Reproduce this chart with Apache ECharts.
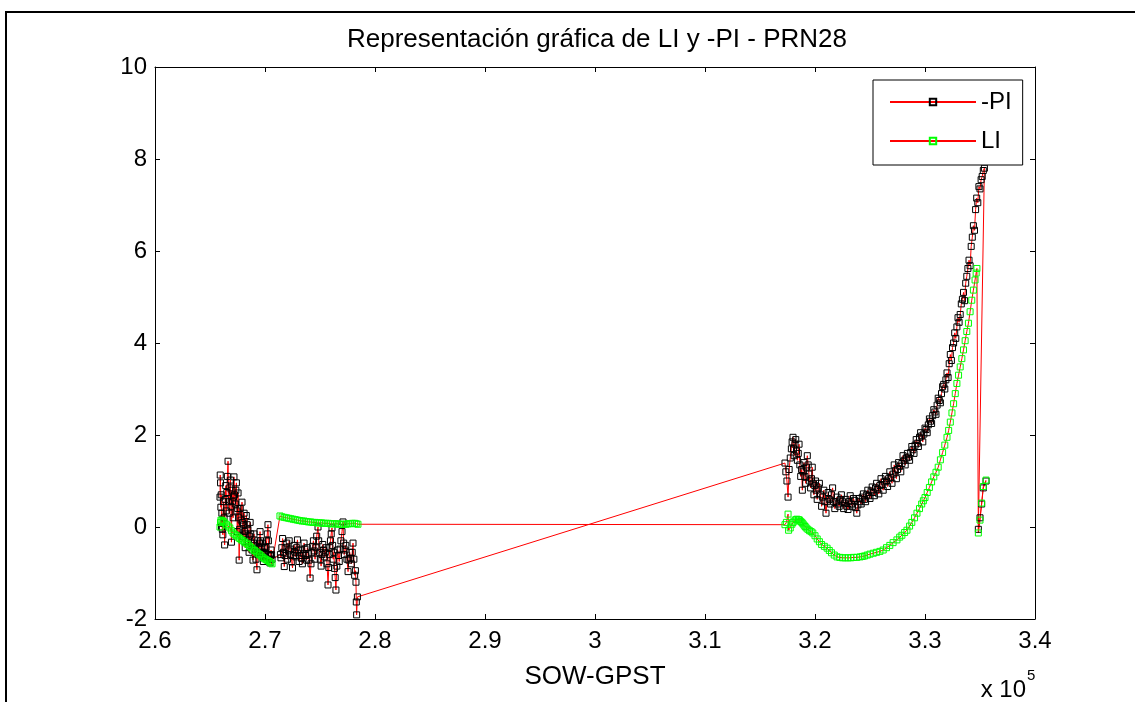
<!DOCTYPE html>
<html>
<head>
<meta charset="utf-8">
<script src="https://cdn.jsdelivr.net/npm/echarts@6/dist/echarts.min.js"></script>
<style>
html,body{margin:0;padding:0;background:#fff;}
#chart{width:1135px;height:702px;}
</style>
</head>
<body>
<div id="chart"></div>
<script>
// ---- DATA (x in seconds of week, y in metres) ----
var titleText = 'Representación gráfica de LI y -PI - PRN28';
var xAxisName = 'SOW-GPST';
var seriesNames = ['-PI', 'LI'];
var yTicks = [-2, 0, 2, 4, 6, 8, 10];
var xTicks = [260000, 270000, 280000, 290000, 300000, 310000, 320000, 330000, 340000];

// -PI : first pass
var piX1 = [265910,265930,265960,265990,266020,266050,266080,266120,266170,266220,266280,266330,266380,266430,266480,266530,266580,266640,266700,266750,
 266800,266850,266900,266950,267000,267050,267100,267140,267180,267230,267300,267350,267400,267440,267480,267520,267550,267600,267650,267700,
 267750,267830,267910,267960,268000,268050,268100,268150,268200,268250,268300,268380,268450,268500,268550,268600,268650,268700,268750,268830,
 268910,268950,269000,269050,269100,269180,269270,269310,269350,269400,269450,269500,269550,269600,269650,269700,269750,269800,269850,269900,
 269950,270000,270050,270100,270150,270210,270270,270310,270350,270400,270450,270500,270550,270600,270640];
var piY1 = [0.65,1.13,0.96,0.43,0.70,0.00,0.30,-0.05,-0.17,0.55,0.20,-0.39,0.60,0.90,0.35,0.75,1.10,1.43,0.55,0.30,
 0.85,1.02,0.45,-0.33,0.80,0.55,0.20,0.65,1.09,0.70,0.50,0.80,0.96,0.35,-0.10,0.40,0.74,0.20,-0.72,-0.05,
 0.40,0.15,0.54,0.10,-0.20,0.05,0.30,-0.10,-0.45,-0.15,0.25,0.05,-0.05,-0.30,-0.55,-0.20,0.10,-0.15,-0.35,-0.50,
 -0.72,-0.40,-0.15,-0.35,-0.50,-0.70,-0.93,-0.55,-0.30,-0.45,-0.60,-0.35,-0.10,-0.30,-0.55,-0.45,-0.35,-0.55,-0.75,-0.60,
 -0.45,-0.55,-0.65,-0.45,-0.30,-0.15,0.05,-0.30,-0.60,-0.70,-0.78,-0.62,-0.50,-0.60,-0.70];
// -PI : second pass
var piX2 = [271400,271450,271530,271600,271680,271750,271830,271900,271980,272050,272130,272200,272280,272350,272430,272500,272580,272650,272730,272800,
 272880,272950,273030,273100,273180,273250,273330,273400,273480,273550,273630,273700,273780,273850,273930,274000,274100,274180,274250,274330,
 274400,274480,274550,274630,274700,274820,274880,274950,275030,275100,275180,275250,275330,275400,275480,275550,275640,275730,275800,275850,
 275900,275950,276020,276090,276150,276200,276260,276320,276380,276450,276530,276600,276680,276750,276830,276900,277000,277090,277150,277200,
 277280,277350,277450,277550,277620,277700,277780,277850,277930,278000,278080,278150,278220,278270,278300,278330,278400];
var piY2 = [-0.60,-0.67,-0.45,-0.25,-0.55,-0.86,-0.62,-0.45,-0.35,-0.70,-0.52,-0.30,-0.48,-0.60,-0.75,-0.89,-0.62,-0.40,-0.55,-0.65,
 -0.45,-0.28,-0.50,-0.75,-0.62,-0.50,-0.68,-0.80,-0.58,-0.35,-0.48,-0.62,-0.72,-0.45,-0.58,-0.72,-1.11,-0.80,-0.55,-0.42,
 -0.30,-0.52,-0.70,-0.45,-0.20,0.00,-0.30,-0.55,-0.70,-0.85,-0.60,-0.38,-0.50,-0.65,-0.55,-0.45,-0.80,-1.26,-0.88,-0.60,
 -0.45,-0.30,-0.15,-0.02,-0.40,-0.70,-0.55,-0.90,-1.10,-1.37,-0.85,-0.50,-0.62,-0.75,-0.48,-0.30,-0.10,0.11,-0.35,-0.60,
 -0.50,-0.40,-0.70,-0.97,-0.72,-0.55,-0.68,-0.80,-0.55,-0.35,-0.70,-1.05,-0.95,-1.20,-1.63,-1.91,-1.52];
// -PI : third pass
var piX3 = [317270,317350,317450,317550,317650,317750,317850,317920,318000,318050,318100,318180,318250,318320,318400,318480,318550,318620,318700,318780,
 318850,318920,319000,319080,319150,319220,319300,319380,319450,319520,319600,319680,319750,319820,319900,319980,320050,320120,320200,320300,
 320400,320500,320600,320700,320800,320900,321000,321100,321200,321300,321400,321500,321600,321700,321800,321900,322000,322100,322200,322300,
 322400,322500,322600,322700,322800,322900,323000,323100,323200,323300,323400,323500,323600,323700,323800,323900,324000,324100,324200,324300,
 324400,324500,324600,324700,324800,324900,325000,325100,325200,325300,325400,325500,325600,325700,325800,325900,326000,326100,326200,326300,
 326400,326500,326600,326700,326800,326900,327000,327100,327200,327300,327400,327500,327600,327700,327800,327900,328000,328100,328200,328300,
 328400,328500,328600,328700,328800,328900,329000,329100,329200,329300,329400,329500,329600,329700,329800,329900,330000,330100,330200,330300,
 330400,330500,330600,330700,330800,330900,331000,331100,331200,331300,331400,331500,331600,331700,331800,331900,
 332000,332100,332200,332300,332400,332500,332600,332700,332800,332900,333000,333100,333200,333300,333400,333500,333600,333700,333800,333900,
 334000,334100,334200,334300,334400,334500,334600,334700,334800,334900,335000,335100,335200,335300,335400];
var piY3 = [1.39,1.20,1.00,0.65,1.25,1.50,1.70,1.85,1.95,1.70,1.55,1.80,1.90,1.65,1.45,1.60,1.80,1.35,1.10,1.25,
 0.80,1.20,1.40,1.10,0.95,1.30,1.55,1.35,1.15,1.00,0.85,1.05,1.30,0.95,0.70,0.90,1.00,0.80,0.60,0.85,
 0.95,0.70,0.45,0.65,0.80,0.55,0.30,0.55,0.75,0.60,0.50,0.70,0.85,0.55,0.40,0.55,0.65,0.50,0.45,0.60,
 0.70,0.55,0.40,0.52,0.60,0.45,0.38,0.55,0.68,0.50,0.45,0.62,0.58,0.42,0.30,0.48,0.62,0.55,0.50,0.65,
 0.72,0.60,0.55,0.70,0.80,0.68,0.62,0.78,0.87,0.75,0.68,0.85,0.95,0.82,0.72,0.90,1.05,0.92,0.80,0.98,
 1.10,1.00,0.88,1.05,1.20,1.08,0.95,1.15,1.35,1.22,1.05,1.25,1.40,1.32,1.20,1.38,1.55,1.45,1.35,1.50,
 1.60,1.52,1.45,1.62,1.75,1.68,1.60,1.78,1.90,1.82,1.75,1.95,2.05,1.98,1.85,2.02,2.15,2.12,2.05,2.22,
 2.35,2.30,2.25,2.42,2.55,2.50,2.45,2.65,2.80,2.75,2.70,2.90,3.05,3.10,3.00,3.20,
 3.35,3.25,3.55,3.75,3.62,3.90,4.00,4.22,4.10,4.35,4.55,4.45,4.62,4.85,4.95,5.10,4.92,5.30,5.45,5.62,
 5.80,5.68,6.10,6.30,6.55,6.45,6.90,7.15,7.05,7.40,7.35,7.55,7.62,7.75,7.80];
// -PI : last short pass
var piX4 = [334850,335000,335150,335300,335550];
var piY4 = [-0.05,0.20,0.50,0.85,1.00];

// LI passes
var liX1 = [265910,265960,266000,266100,266200,266350,266500,266650,266800,266950,267100,267250,267400,267550,267700,267850,268000,268150,268300,268450,
 268600,268750,268900,269050,269200,269350,269500,269650,269800,269950,270100,270250,270400,270520,270640];
var liY1 = [0.00,0.10,0.15,0.14,0.12,0.09,0.05,0.02,-0.02,-0.08,-0.13,-0.16,-0.19,-0.22,-0.25,-0.28,-0.30,-0.33,-0.35,-0.38,
 -0.42,-0.45,-0.48,-0.51,-0.54,-0.57,-0.60,-0.63,-0.66,-0.69,-0.71,-0.73,-0.75,-0.78,-0.80];
var liX2 = [271360,271550,271750,271950,272150,272350,272550,272750,272950,273150,273350,273550,273750,273950,274150,274350,274550,274750,274950,275150,
 275350,275550,275750,275950,276150,276350,276550,276750,276950,277150,277350,277550,277750,277950,278150,278300,278450];
var liY2 = [0.24,0.22,0.21,0.20,0.19,0.18,0.17,0.16,0.15,0.14,0.13,0.13,0.12,0.11,0.11,0.10,0.10,0.09,0.09,0.09,
 0.08,0.08,0.08,0.07,0.07,0.07,0.07,0.06,0.06,0.06,0.06,0.07,0.07,0.08,0.08,0.07,0.06];
var liX3 = [317270,317400,317550,317600,317750,317900,318000,318100,318250,318350,318500,318600,318700,318800,318900,319000,319100,319200,319350,319500,
 319650,319800,320000,320200,320400,320600,320850,321100,321300,321500,321750,322000,322250,322500,322750,323000,323250,323500,323800,324100,
 324300,324500,324750,325000,325300,325600,325900,326200,326500,326800,327100,327450,327700,327900,328150,328360,328600,328800,329050,329270,
 329500,329700,329850,330000,330200,330400,330600,330800,331000,331200,331400,331600,331800,332000,332150,332300,332450,332600,332750,332900,
 333050,333200,333350,333500,333650,333800,333950,334100,334250,334400,334550,334650,334720];
var liY3 = [0.05,0.10,0.28,-0.07,-0.02,0.06,0.10,0.13,0.16,0.17,0.16,0.15,0.12,0.10,0.07,0.04,0.01,-0.02,-0.05,-0.08,
 -0.10,-0.13,-0.19,-0.26,-0.32,-0.38,-0.42,-0.46,-0.51,-0.56,-0.61,-0.65,-0.66,-0.67,-0.67,-0.67,-0.67,-0.66,-0.66,-0.65,
 -0.64,-0.63,-0.61,-0.59,-0.57,-0.55,-0.53,-0.50,-0.45,-0.40,-0.34,-0.28,-0.22,-0.18,-0.12,-0.07,0.02,0.10,0.20,0.30,
 0.40,0.50,0.57,0.64,0.75,0.86,0.98,1.09,1.19,1.30,1.46,1.62,1.78,1.95,2.10,2.28,2.48,2.68,2.90,3.12,
 3.30,3.48,3.66,3.85,4.05,4.25,4.43,4.68,4.93,5.15,5.37,5.52,5.62];
var liX4 = [334850,335000,335150,335300,335550];
var liY4 = [-0.13,0.15,0.52,0.88,1.02];

function pairs(xs, ys){ var out=[]; for(var i=0;i<xs.length;i++){ out.push([xs[i], ys[i]]); } return out; }

var piData = [].concat(pairs(piX1,piY1), pairs(piX2,piY2), pairs(piX3,piY3), pairs(piX4,piY4));
var liData = [].concat(pairs(liX1,liY1), pairs(liX2,liY2), pairs(liX3,liY3), pairs(liX4,liY4));

var FONT = 'Liberation Sans, Arial, sans-serif';
var chart = echarts.init(document.getElementById('chart'), null, {renderer:'canvas'});

function fmtX(v){ return String(parseFloat((v/1e5).toFixed(1))); }

var axisCommon = {
  axisLine:{show:true, onZero:false, lineStyle:{color:'#000', width:1}},
  axisTick:{show:true, inside:true, length:5, lineStyle:{color:'#000', width:1}},
  splitLine:{show:false}
};

var option = {
  backgroundColor:'#fff',
  animation:false,
  grid:{left:155, right:100, top:67, bottom:83, containLabel:false},
  legend:{
    data:seriesNames, orient:'vertical', left:873, top:80,
    itemWidth:86, itemHeight:8, itemGap:15,
    padding:[10,11,12,16],
    backgroundColor:'#fff', borderColor:'#000', borderWidth:1,
    textStyle:{fontFamily:FONT, fontSize:24, color:'#000', lineHeight:24},
    selectedMode:false
  },
  xAxis:[
    Object.assign({}, axisCommon, {
      type:'value', position:'bottom', min:xTicks[0], max:xTicks[xTicks.length-1], interval:10000,
      axisLabel:{show:true, formatter:fmtX, fontFamily:FONT, fontSize:24, color:'#000', margin:10, showMinLabel:true, showMaxLabel:true}
    }),
    Object.assign({}, axisCommon, {
      type:'value', position:'top', min:xTicks[0], max:xTicks[xTicks.length-1], interval:10000,
      axisLabel:{show:false}
    })
  ],
  yAxis:[
    Object.assign({}, axisCommon, {
      type:'value', position:'left', min:yTicks[0], max:yTicks[yTicks.length-1], interval:2,
      axisLabel:{show:true, fontFamily:FONT, fontSize:24, color:'#000', margin:8, showMinLabel:true, showMaxLabel:true}
    }),
    Object.assign({}, axisCommon, {
      type:'value', position:'right', min:yTicks[0], max:yTicks[yTicks.length-1], interval:2,
      axisLabel:{show:false}
    })
  ],
  graphic:[
    {type:'rect', silent:true, z:-10, shape:{x:6, y:12, width:1400, height:1000}, style:{fill:'none', stroke:'#000', lineWidth:2}},
    {type:'text', silent:true, style:{text:titleText, x:597, y:40, textAlign:'center', textVerticalAlign:'middle', font:'26px Liberation Sans, Arial, sans-serif', fill:'#000'}},
    {type:'text', silent:true, style:{text:xAxisName, x:595, y:677, textAlign:'center', textVerticalAlign:'middle', font:'26px Liberation Sans, Arial, sans-serif', fill:'#000'}},
    {type:'text', silent:true, style:{text:'x 10', x:1026, y:690, textAlign:'right', textVerticalAlign:'middle', font:'24px Liberation Sans, Arial, sans-serif', fill:'#000'}},
    {type:'text', silent:true, style:{text:'5', x:1027, y:676, textAlign:'left', textVerticalAlign:'middle', font:'15px Liberation Sans, Arial, sans-serif', fill:'#000'}}
  ],
  series:[
    {
      name:seriesNames[0], type:'line', data:piData,
      symbol:'rect', symbolSize:6, showSymbol:true, showAllSymbol:true,
      lineStyle:{color:'#ff0000', width:1},
      itemStyle:{color:'rgba(255,255,255,0)', borderColor:'#000', borderWidth:1},
      emphasis:{disabled:true}
    },
    {
      name:seriesNames[1], type:'line', data:liData,
      symbol:'rect', symbolSize:6, showSymbol:true, showAllSymbol:true,
      lineStyle:{color:'#ff0000', width:1},
      itemStyle:{color:'rgba(255,255,255,0)', borderColor:'#00ff00', borderWidth:1},
      emphasis:{disabled:true}
    }
  ]
};
chart.setOption(option);
</script>
</body>
</html>
